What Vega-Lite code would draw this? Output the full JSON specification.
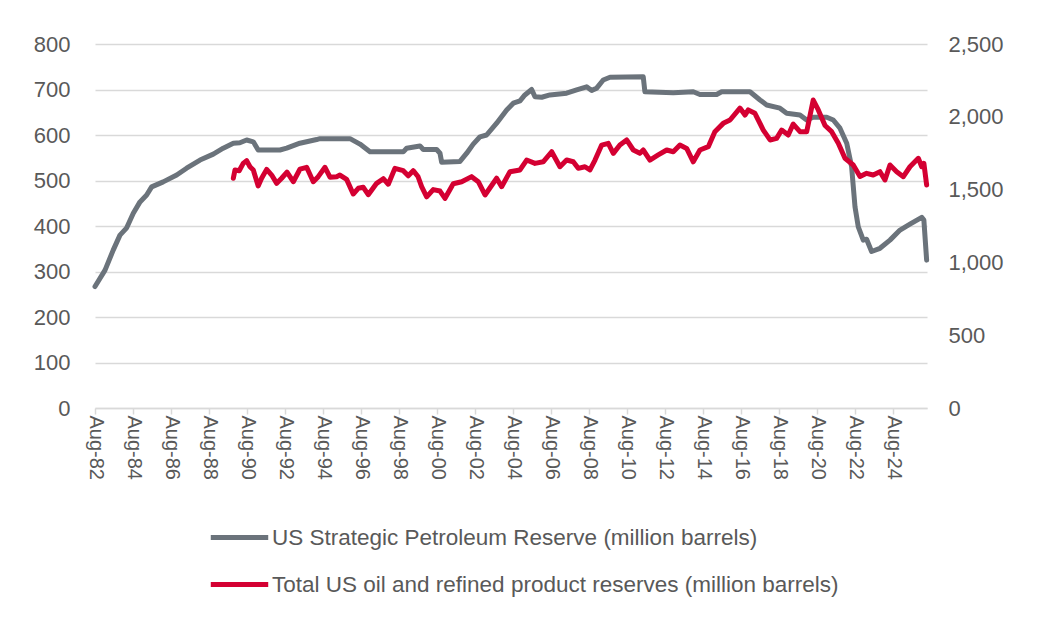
{
  "$schema": "https://vega.github.io/schema/vega-lite/v6.json",
  "width": 832,
  "height": 364,
  "autosize": {"type": "none"},
  "padding": {"left": 95, "top": 44, "right": 115, "bottom": 227},
  "background": "white",
  "config": {
    "view": {"stroke": null},
    "font": "Liberation Sans",
    "axis": {"labelColor": "#595959", "labelFont": "Liberation Sans", "title": null},
    "legend": {"labelColor": "#595959", "labelFont": "Liberation Sans"}
  },
  "datasets": {
    "spr": [
      {"date": "1982-08-01", "value": 267},
      {"date": "1983-02-10", "value": 303},
      {"date": "1983-07-17", "value": 347},
      {"date": "1983-11-24", "value": 380},
      {"date": "1984-04-01", "value": 396},
      {"date": "1984-08-06", "value": 428},
      {"date": "1984-12-13", "value": 453},
      {"date": "1985-04-20", "value": 468},
      {"date": "1985-07-25", "value": 486},
      {"date": "1986-03-04", "value": 497},
      {"date": "1986-11-18", "value": 512},
      {"date": "1987-05-28", "value": 527},
      {"date": "1988-02-10", "value": 545},
      {"date": "1988-10-22", "value": 558},
      {"date": "1989-05-01", "value": 571},
      {"date": "1989-11-11", "value": 582},
      {"date": "1990-03-17", "value": 583},
      {"date": "1990-07-25", "value": 589},
      {"date": "1990-11-30", "value": 585},
      {"date": "1991-03-04", "value": 567},
      {"date": "1992-04-25", "value": 567},
      {"date": "1992-09-02", "value": 571},
      {"date": "1993-05-14", "value": 582},
      {"date": "1994-04-01", "value": 590},
      {"date": "1994-06-03", "value": 592},
      {"date": "1996-01-02", "value": 592},
      {"date": "1996-07-11", "value": 580},
      {"date": "1997-01-20", "value": 563},
      {"date": "1998-10-22", "value": 563},
      {"date": "1998-12-26", "value": 571},
      {"date": "1999-09-08", "value": 576},
      {"date": "1999-11-11", "value": 568},
      {"date": "2000-07-25", "value": 568},
      {"date": "2000-09-27", "value": 560},
      {"date": "2000-10-29", "value": 540},
      {"date": "2001-10-16", "value": 542},
      {"date": "2002-02-23", "value": 560},
      {"date": "2002-06-28", "value": 580},
      {"date": "2002-11-05", "value": 596},
      {"date": "2003-03-12", "value": 600},
      {"date": "2003-09-21", "value": 626},
      {"date": "2004-04-01", "value": 655},
      {"date": "2004-08-06", "value": 670},
      {"date": "2004-12-13", "value": 675},
      {"date": "2005-03-17", "value": 688},
      {"date": "2005-07-25", "value": 700},
      {"date": "2005-09-27", "value": 684},
      {"date": "2006-02-04", "value": 683},
      {"date": "2006-07-11", "value": 688},
      {"date": "2007-05-28", "value": 692},
      {"date": "2007-12-07", "value": 699},
      {"date": "2008-06-16", "value": 706},
      {"date": "2008-09-21", "value": 698},
      {"date": "2008-12-26", "value": 703},
      {"date": "2009-05-01", "value": 721},
      {"date": "2009-09-08", "value": 727},
      {"date": "2011-06-09", "value": 728},
      {"date": "2011-07-11", "value": 695},
      {"date": "2013-01-07", "value": 693},
      {"date": "2014-01-26", "value": 695},
      {"date": "2014-06-03", "value": 689},
      {"date": "2015-04-20", "value": 689},
      {"date": "2015-07-25", "value": 695},
      {"date": "2017-01-20", "value": 695},
      {"date": "2017-08-01", "value": 677},
      {"date": "2017-12-07", "value": 666},
      {"date": "2018-08-19", "value": 659},
      {"date": "2018-12-26", "value": 648},
      {"date": "2019-09-08", "value": 644},
      {"date": "2020-01-15", "value": 633},
      {"date": "2020-05-20", "value": 639},
      {"date": "2021-02-04", "value": 639},
      {"date": "2021-06-09", "value": 633},
      {"date": "2021-10-16", "value": 615},
      {"date": "2022-02-23", "value": 582},
      {"date": "2022-05-28", "value": 530},
      {"date": "2022-08-01", "value": 442},
      {"date": "2022-10-03", "value": 398},
      {"date": "2023-01-07", "value": 369},
      {"date": "2023-03-12", "value": 371},
      {"date": "2023-06-16", "value": 344},
      {"date": "2023-11-24", "value": 351},
      {"date": "2024-06-03", "value": 369},
      {"date": "2024-12-13", "value": 391},
      {"date": "2025-06-22", "value": 404},
      {"date": "2026-02-04", "value": 419},
      {"date": "2026-03-17", "value": 413},
      {"date": "2026-05-09", "value": 325}
    ],
    "total": [
      {"date": "1989-11-11", "value": 1578},
      {"date": "1989-12-13", "value": 1635},
      {"date": "1990-03-04", "value": 1630},
      {"date": "1990-05-20", "value": 1680},
      {"date": "1990-07-25", "value": 1699},
      {"date": "1990-09-27", "value": 1657},
      {"date": "1990-11-30", "value": 1635},
      {"date": "1991-03-04", "value": 1525},
      {"date": "1991-05-09", "value": 1578},
      {"date": "1991-08-14", "value": 1639},
      {"date": "1991-11-18", "value": 1600},
      {"date": "1992-02-23", "value": 1543},
      {"date": "1992-05-28", "value": 1578},
      {"date": "1992-09-08", "value": 1620},
      {"date": "1993-01-07", "value": 1554},
      {"date": "1993-05-14", "value": 1640},
      {"date": "1993-09-21", "value": 1653},
      {"date": "1994-01-26", "value": 1554},
      {"date": "1994-05-01", "value": 1589},
      {"date": "1994-09-08", "value": 1653},
      {"date": "1994-12-13", "value": 1585},
      {"date": "1995-04-20", "value": 1589},
      {"date": "1995-06-22", "value": 1600},
      {"date": "1995-10-29", "value": 1570},
      {"date": "1996-03-04", "value": 1470},
      {"date": "1996-06-09", "value": 1509},
      {"date": "1996-09-14", "value": 1516},
      {"date": "1996-12-18", "value": 1465},
      {"date": "1997-05-28", "value": 1543},
      {"date": "1997-10-03", "value": 1575},
      {"date": "1998-01-07", "value": 1537},
      {"date": "1998-05-14", "value": 1646},
      {"date": "1998-10-22", "value": 1630},
      {"date": "1999-01-26", "value": 1595},
      {"date": "1999-05-01", "value": 1630},
      {"date": "1999-08-01", "value": 1590},
      {"date": "1999-10-10", "value": 1520},
      {"date": "2000-01-15", "value": 1450},
      {"date": "2000-05-20", "value": 1500},
      {"date": "2000-09-27", "value": 1490},
      {"date": "2001-01-02", "value": 1440},
      {"date": "2001-06-09", "value": 1540},
      {"date": "2001-11-18", "value": 1554},
      {"date": "2002-05-28", "value": 1589},
      {"date": "2002-10-03", "value": 1554},
      {"date": "2003-02-10", "value": 1463},
      {"date": "2003-09-21", "value": 1578},
      {"date": "2003-12-26", "value": 1520},
      {"date": "2004-06-03", "value": 1623},
      {"date": "2004-12-13", "value": 1635},
      {"date": "2005-04-20", "value": 1703},
      {"date": "2005-09-27", "value": 1680},
      {"date": "2006-03-04", "value": 1691},
      {"date": "2006-08-14", "value": 1760},
      {"date": "2007-01-20", "value": 1657},
      {"date": "2007-05-28", "value": 1703},
      {"date": "2007-10-03", "value": 1691},
      {"date": "2008-01-07", "value": 1646},
      {"date": "2008-05-14", "value": 1657},
      {"date": "2008-08-19", "value": 1635},
      {"date": "2008-11-24", "value": 1703},
      {"date": "2009-04-01", "value": 1806},
      {"date": "2009-08-06", "value": 1818},
      {"date": "2009-11-11", "value": 1749},
      {"date": "2010-03-17", "value": 1806},
      {"date": "2010-07-25", "value": 1841},
      {"date": "2010-11-30", "value": 1772},
      {"date": "2011-04-06", "value": 1749},
      {"date": "2011-06-09", "value": 1772},
      {"date": "2011-10-16", "value": 1703},
      {"date": "2012-03-23", "value": 1738},
      {"date": "2012-09-02", "value": 1772},
      {"date": "2013-01-07", "value": 1760},
      {"date": "2013-05-14", "value": 1806},
      {"date": "2013-09-21", "value": 1783},
      {"date": "2014-01-26", "value": 1691},
      {"date": "2014-06-03", "value": 1772},
      {"date": "2014-11-11", "value": 1795},
      {"date": "2015-03-17", "value": 1898},
      {"date": "2015-08-25", "value": 1955},
      {"date": "2016-01-02", "value": 1978},
      {"date": "2016-07-11", "value": 2060},
      {"date": "2016-10-16", "value": 2012},
      {"date": "2016-12-18", "value": 2047},
      {"date": "2017-04-25", "value": 2024},
      {"date": "2017-10-03", "value": 1909},
      {"date": "2018-02-10", "value": 1841},
      {"date": "2018-06-16", "value": 1852},
      {"date": "2018-09-21", "value": 1909},
      {"date": "2019-01-26", "value": 1875},
      {"date": "2019-05-01", "value": 1950},
      {"date": "2019-09-08", "value": 1898},
      {"date": "2020-01-15", "value": 1898},
      {"date": "2020-05-20", "value": 2115},
      {"date": "2020-08-25", "value": 2047},
      {"date": "2021-01-02", "value": 1940},
      {"date": "2021-05-09", "value": 1898},
      {"date": "2021-09-14", "value": 1818},
      {"date": "2022-01-20", "value": 1715},
      {"date": "2022-06-28", "value": 1669},
      {"date": "2022-11-05", "value": 1590},
      {"date": "2023-03-12", "value": 1612},
      {"date": "2023-07-17", "value": 1600},
      {"date": "2023-11-24", "value": 1623},
      {"date": "2024-02-28", "value": 1566},
      {"date": "2024-06-03", "value": 1669},
      {"date": "2024-10-10", "value": 1623},
      {"date": "2025-02-15", "value": 1589},
      {"date": "2025-06-22", "value": 1657},
      {"date": "2025-11-30", "value": 1715},
      {"date": "2026-02-04", "value": 1657},
      {"date": "2026-03-17", "value": 1680},
      {"date": "2026-05-09", "value": 1532}
    ]
  },
  "encoding": {
    "x": {
      "field": "date",
      "type": "temporal",
      "scale": {"type": "utc", "domain": ["1982-08-01", "2026-05-16"]},
      "axis": {
        "values": [
          {"year": 1982, "month": 8, "date": 1, "utc": true},
          {"year": 1984, "month": 8, "date": 1, "utc": true},
          {"year": 1986, "month": 8, "date": 1, "utc": true},
          {"year": 1988, "month": 8, "date": 1, "utc": true},
          {"year": 1990, "month": 8, "date": 1, "utc": true},
          {"year": 1992, "month": 8, "date": 1, "utc": true},
          {"year": 1994, "month": 8, "date": 1, "utc": true},
          {"year": 1996, "month": 8, "date": 1, "utc": true},
          {"year": 1998, "month": 8, "date": 1, "utc": true},
          {"year": 2000, "month": 8, "date": 1, "utc": true},
          {"year": 2002, "month": 8, "date": 1, "utc": true},
          {"year": 2004, "month": 8, "date": 1, "utc": true},
          {"year": 2006, "month": 8, "date": 1, "utc": true},
          {"year": 2008, "month": 8, "date": 1, "utc": true},
          {"year": 2010, "month": 8, "date": 1, "utc": true},
          {"year": 2012, "month": 8, "date": 1, "utc": true},
          {"year": 2014, "month": 8, "date": 1, "utc": true},
          {"year": 2016, "month": 8, "date": 1, "utc": true},
          {"year": 2018, "month": 8, "date": 1, "utc": true},
          {"year": 2020, "month": 8, "date": 1, "utc": true},
          {"year": 2022, "month": 8, "date": 1, "utc": true},
          {"year": 2024, "month": 8, "date": 1, "utc": true}
        ],
        "format": "%b-%y",
        "labelAngle": 90,
        "labelAlign": "left",
        "labelBaseline": "middle",
        "labelPadding": 1,
        "labelFontSize": 20,
        "labelOverlap": false,
        "labelFlush": false,
        "labelBound": false,
        "grid": false,
        "domainColor": "#d9d9d9",
        "domainWidth": 1.5,
        "tickColor": "#d9d9d9",
        "tickWidth": 1.5,
        "tickSize": 6
      }
    }
  },
  "layer": [
    {
      "data": {"name": "spr"},
      "mark": {"type": "line", "strokeWidth": 5, "strokeJoin": "round", "strokeCap": "round"},
      "encoding": {
        "y": {
          "field": "value",
          "type": "quantitative",
          "scale": {"domain": [0, 800]},
          "axis": {
            "orient": "left",
            "values": [0, 100, 200, 300, 400, 500, 600, 700, 800],
            "grid": true,
            "gridColor": "#d9d9d9",
            "gridWidth": 1.5,
            "domain": false,
            "ticks": false,
            "labelPadding": 25,
            "labelFontSize": 22
          }
        },
        "color": {
          "datum": "US Strategic Petroleum Reserve (million barrels)",
          "type": "nominal",
          "scale": {
            "domain": ["US Strategic Petroleum Reserve (million barrels)", "Total US oil and refined product reserves (million barrels)"],
            "range": ["#6b737b", "#d40032"]
          },
          "legend": {
            "title": null,
            "orient": "none",
            "legendX": 113,
            "legendY": 462,
            "direction": "vertical",
            "symbolType": "stroke",
            "symbolSize": 3300,
            "symbolStrokeWidth": 5,
            "labelFontSize": 22.5,
            "labelOffset": 1,
            "labelLimit": 0,
            "rowPadding": 4
          }
        }
      }
    },
    {
      "data": {"name": "total"},
      "mark": {"type": "line", "strokeWidth": 5, "strokeJoin": "round", "strokeCap": "round"},
      "encoding": {
        "y": {
          "field": "value",
          "type": "quantitative",
          "scale": {"domain": [0, 2500]},
          "axis": {
            "orient": "right",
            "values": [0, 500, 1000, 1500, 2000, 2500],
            "format": ",d",
            "grid": false,
            "domain": false,
            "ticks": false,
            "labelPadding": 21,
            "labelFontSize": 22
          }
        },
        "color": {
          "datum": "Total US oil and refined product reserves (million barrels)",
          "type": "nominal"
        }
      }
    }
  ],
  "resolve": {"scale": {"y": "independent"}}
}
